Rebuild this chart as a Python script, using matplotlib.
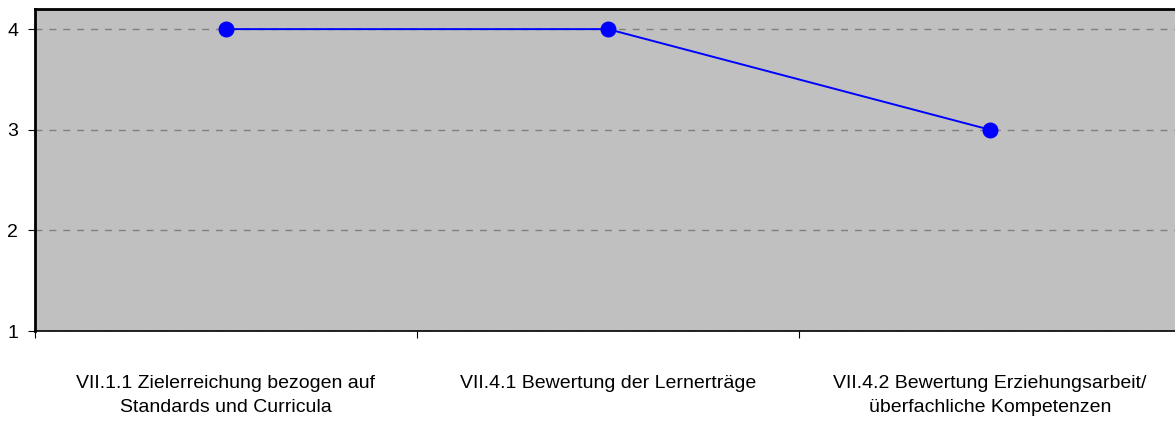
import matplotlib
matplotlib.use("Agg")
from matplotlib import pyplot as plt

categories = [
    "VII.1.1 Zielerreichung bezogen auf\nStandards und Curricula",
    "VII.4.1 Bewertung der Lernerträge",
    "VII.4.2 Bewertung Erziehungsarbeit/\nüberfachliche Kompetenzen",
]
values = [4, 4, 3]
y_ticks = [1, 2, 3, 4]

plt.rcParams["font.family"] = ["Liberation Sans", "DejaVu Sans"]

fig = plt.figure(figsize=(11.75, 4.21), dpi=100)
# plot area runs past the right edge of the image, as in the reference
ax = fig.add_axes([35 / 1175, 1 - 331 / 421, 1146 / 1175, 322 / 421])
ax.set_facecolor("#C0C0C0")

x = list(range(len(categories)))
ax.plot(x, values, color="#0000FF", linewidth=1.4, marker="o",
        markersize=10.5, zorder=3)

ax.set_xlim(-0.5, 2.5)
ax.set_ylim(1, 4.2)
ax.set_yticks(y_ticks)
ax.set_xticks([-0.5, 0.5, 1.5, 2.5])
ax.set_xticklabels([])
ax.set_xticks(x, minor=True)
ax.set_xticklabels(categories, minor=True, fontsize=14, linespacing=1.5)
ax.tick_params(axis="x", which="minor", length=0, pad=32)
ax.tick_params(axis="x", which="major", length=5, width=0.8)
ax.tick_params(axis="y", length=5, width=0.8, labelsize=14, pad=7)

ax.grid(axis="y", color="#808080", linestyle=(0, (5, 5)), linewidth=1)
ax.set_axisbelow(True)

for side in ("left", "top"):
    ax.spines[side].set_linewidth(2)
ax.spines["bottom"].set_linewidth(1.2)
ax.spines["right"].set_visible(False)

fig.savefig("out.png", dpi=100)
